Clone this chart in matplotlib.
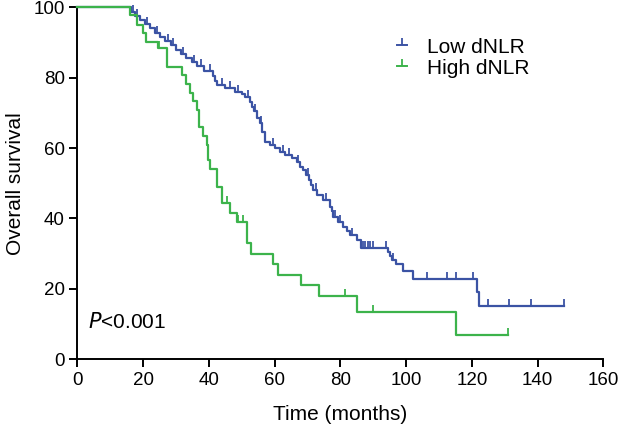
import numpy as np
import matplotlib
matplotlib.use("Agg")
import matplotlib.pyplot as plt
from matplotlib.lines import Line2D

plt.rcParams['font.family'] = ['Liberation Sans', 'DejaVu Sans']

# ---- data ----
low_times = [0, 16.3, 17.5, 19.0, 20.5, 22.0, 23.5, 25.0, 26.8, 28.5, 30.0, 31.5, 33.0,
             34.8, 36.5, 38.5, 41.3, 42.0, 42.6, 45.0, 48.0, 50.0, 51.0, 52.5, 53.2,
             53.6, 54.7, 55.5, 56.2, 57.1, 58.6, 60.1, 61.6, 63.1, 65.2, 66.7, 67.7,
             68.7, 69.5, 70.5, 71.2, 71.8, 73.0, 74.8, 76.8, 77.3, 77.8, 79.3, 80.9,
             82.0, 82.9, 84.9, 86.4, 94.5, 95.0, 95.6, 97.0, 99.1, 102.1, 121.6, 122.2]
low_surv = [100, 98.8, 97.6, 96.4, 95.2, 94.0, 92.8, 91.6, 90.4, 89.2, 88.0, 86.8, 85.6,
            84.4, 83.2, 82.0, 80.6, 79.2, 77.8, 77.0, 76.0, 75.3, 74.6, 73.2, 71.8,
            70.4, 68.5, 67.0, 64.7, 61.8, 60.9, 60.0, 59.0, 58.0, 57.1, 56.1, 54.7,
            53.8, 52.4, 51.0, 49.6, 48.1, 46.7, 45.3, 43.4, 42.0, 40.5, 39.1, 37.7,
            36.5, 35.3, 33.9, 31.5, 30.4, 29.3, 28.2, 27.0, 25.0, 22.7, 19.0, 15.1]
low_end = 148.0
low_censor = [17.0, 18.2, 21.2, 24.2, 27.5, 29.2, 32.2, 35.5, 37.5, 40.2, 44.0, 46.5,
              49.0, 52.0, 54.0, 56.0, 59.5, 62.5, 64.5, 67.0, 70.0, 72.5, 75.5, 78.5,
              80.0, 83.5, 87.0, 87.6, 88.3, 89.0, 90.0, 94.0, 96.0, 106.2, 112.5,
              115.1, 120.2, 124.9, 131.2, 138.1, 148.0]

high_times = [0, 16.0, 18.2, 20.0, 20.9, 24.6, 27.2, 31.7, 33.0, 34.3, 35.3, 36.5, 37.1,
              38.3, 39.3, 39.8, 40.3, 42.4, 43.9, 46.4, 48.5, 51.5, 52.7, 59.6, 60.9,
              67.9, 73.6, 84.9, 115.1]
high_surv = [100, 97.8, 95.0, 92.6, 90.2, 88.4, 83.1, 80.8, 78.2, 75.7, 73.5, 70.8, 66.1,
             63.4, 60.9, 56.6, 54.0, 49.0, 44.3, 41.6, 39.1, 33.0, 29.9, 27.1, 23.9,
             21.1, 18.1, 13.5, 6.9]
high_end = 131.0
high_censor = [24.9, 45.4, 48.9, 50.3, 81.5, 89.8, 131.0]

labels = ["Low dNLR", "High dNLR"]
blue = "#3B53A4"
green = "#3CB34B"

fig = plt.figure(figsize=(6.22, 4.29), dpi=100)
ax = fig.add_axes([0.1243, 0.1625, 0.9702 - 0.1243, 0.983 - 0.1625])


def draw(times, surv, end, censor, color):
    t = list(times) + [end]
    s = list(surv) + [surv[-1]]
    ax.step(t, s, where='post', color=color, lw=1.6, clip_on=False, zorder=3)
    idx = np.searchsorted(np.array(times), np.array(censor), side='right') - 1
    cs = np.array(surv)[idx]
    ax.plot(censor, cs, linestyle='none', marker=2, ms=5, mew=1.3, color=color,
            clip_on=False, zorder=3)


draw(low_times, low_surv, low_end, low_censor, blue)
draw(high_times, high_surv, high_end, high_censor, green)

ax.set_xlim(0, 160)
ax.set_ylim(0, 100)
ax.set_xticks(np.arange(0, 161, 20))
ax.set_yticks(np.arange(0, 101, 20))
for sp in ['top', 'right']:
    ax.spines[sp].set_visible(False)
for sp in ['left', 'bottom']:
    ax.spines[sp].set_linewidth(1.4)
    ax.spines[sp].set_color('black')
ax.tick_params(direction='out', length=6, width=1.4, labelsize=13.5, pad=3)
ax.set_xlabel("Time (months)", fontsize=15, labelpad=12)
ax.set_ylabel("Overall survival", fontsize=15, labelpad=6)

ax.text(3.3, 10.6, r"$\mathit{P}$<0.001", fontsize=15, va='center', ha='left')

handles = [Line2D([0], [0], color=blue, lw=1.4, marker=2, ms=5, mew=1.3),
           Line2D([0], [0], color=green, lw=1.4, marker=2, ms=5, mew=1.3)]
ax.legend(handles, labels, loc='upper left', bbox_to_anchor=(0.6076, 0.914),
          frameon=False, fontsize=15, borderpad=0, borderaxespad=0,
          handlelength=0.5, handletextpad=0.95, labelspacing=0.1, markerscale=1)

fig.savefig("out.png", dpi=100)
